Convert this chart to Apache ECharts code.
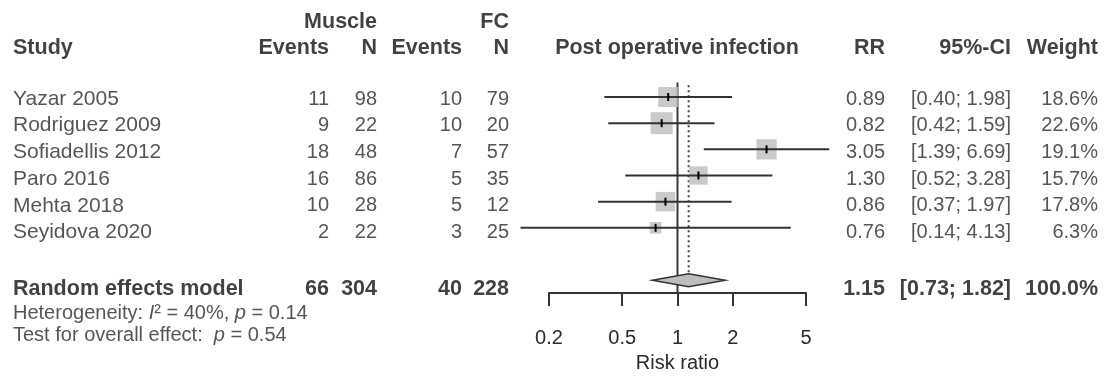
<!DOCTYPE html>
<html>
<head>
<meta charset="utf-8">
<script src="https://cdn.jsdelivr.net/npm/echarts@6/dist/echarts.min.js"></script>
<style>
  html, body { margin: 0; padding: 0; background: #fff; }
  #forest { width: 1105px; height: 378px; }
</style>
</head>
<body>
<div id="forest"></div>
<script>
// study data
var studies = ['Yazar 2005', 'Rodriguez 2009', 'Sofiadellis 2012', 'Paro 2016', 'Mehta 2018', 'Seyidova 2020'];
var eventsMuscle = [11, 9, 18, 16, 10, 2];
var totalMuscle = [98, 22, 48, 86, 28, 22];
var eventsFC = [10, 10, 7, 5, 5, 3];
var totalFC = [79, 20, 57, 35, 12, 25];
var rr = [0.89, 0.82, 3.05, 1.30, 0.86, 0.76];
var ciLower = [0.40, 0.42, 1.39, 0.52, 0.37, 0.14];
var ciUpper = [1.98, 1.59, 6.69, 3.28, 1.97, 4.13];
var weights = [18.6, 22.6, 19.1, 15.7, 17.8, 6.3];

// random effects model: totals (muscle events, N, FC events, N) and RR, lower, upper
var pooledTotals = [66, 304, 40, 228];
var pooledRR = [1.15, 0.73, 1.82];
var pooledWeight = 100.0;
var heterogeneity = ['40%', '0.14'];   // I^2, p
var overallP = '0.54';

var riskTicks = [0.2, 0.5, 1, 2, 5];

// layout (pixels)
var W = 1105, H = 378;
var rowH = 26.7, firstRowY = 99, axisY = 299;
var plotLeft = 549, plotRight = 806;
var summaryRow = 7;
var FONT = '"Liberation Sans", Arial, sans-serif';
var FS = 20, FS_NAME = 21, FS_BOLD = 21.5;

var lg = function (v) { return Math.log10(v); };
var fmt2 = function (v) { return v.toFixed(2); };
var ci = function (lo, hi) { return '[' + fmt2(lo) + '; ' + fmt2(hi) + ']'; };

var myChart = echarts.init(document.getElementById('forest'));

// one text column = one invisible scatter series with labels
function textCol(x, align, items, bold, size) {
    var pos = align === 'right' ? 'left' : (align === 'left' ? 'right' : 'inside');
    return {
        type: 'scatter',
        xAxisIndex: 1,
        yAxisIndex: 1,
        silent: true,
        clip: false,
        symbolSize: 0,
        z: 10,
        data: items.map(function (it) { return { value: [x, it[0]], name: String(it[1]) }; }),
        label: {
            show: true,
            position: pos,
            distance: 0,
            formatter: '{b}',
            fontFamily: FONT,
            fontSize: size || (bold ? FS_BOLD : FS),
            fontWeight: bold ? 'bold' : 'normal',
            color: bold ? '#111' : '#2a2a2a'
        }
    };
}

var rows = studies.map(function (s, i) { return i; });
var hdr1 = -2.88, hdr2 = -1.91, sumText = 7.12;

var series = [];
// headers
series.push(textCol(13, 'left', [[hdr2, 'Study'], [sumText, 'Random effects model']], true));
series.push(textCol(377, 'right', [[hdr1, 'Muscle'], [hdr2, 'N']], true));
series.push(textCol(329, 'right', [[hdr2, 'Events']], true));
series.push(textCol(509, 'right', [[hdr1, 'FC'], [hdr2, 'N']], true));
series.push(textCol(462, 'right', [[hdr2, 'Events']], true));
series.push(textCol(677, 'center', [[hdr2, 'Post operative infection']], true));
series.push(textCol(885, 'right', [[hdr2, 'RR']], true));
series.push(textCol(1011, 'right', [[hdr2, '95%-CI']], true));
series.push(textCol(1098, 'right', [[hdr2, 'Weight']], true));

// study rows
series.push(textCol(13, 'left', rows.map(function (i) { return [i, studies[i]]; }), false, FS_NAME));
series.push(textCol(329, 'right', rows.map(function (i) { return [i, eventsMuscle[i]]; })));
series.push(textCol(377, 'right', rows.map(function (i) { return [i, totalMuscle[i]]; })));
series.push(textCol(462, 'right', rows.map(function (i) { return [i, eventsFC[i]]; })));
series.push(textCol(509, 'right', rows.map(function (i) { return [i, totalFC[i]]; })));
series.push(textCol(885, 'right', rows.map(function (i) { return [i, fmt2(rr[i])]; })));
series.push(textCol(1011, 'right', rows.map(function (i) { return [i, ci(ciLower[i], ciUpper[i])]; })));
series.push(textCol(1098, 'right', rows.map(function (i) { return [i, weights[i].toFixed(1) + '%']; })));

// summary row
series.push(textCol(329, 'right', [[sumText, pooledTotals[0]]], true));
series.push(textCol(377, 'right', [[sumText, pooledTotals[1]]], true));
series.push(textCol(462, 'right', [[sumText, pooledTotals[2]]], true));
series.push(textCol(509, 'right', [[sumText, pooledTotals[3]]], true));
series.push(textCol(885, 'right', [[sumText, fmt2(pooledRR[0])]], true));
series.push(textCol(1011, 'right', [[sumText, ci(pooledRR[1], pooledRR[2])]], true));
series.push(textCol(1098, 'right', [[sumText, pooledWeight.toFixed(1) + '%']], true));

// heterogeneity / overall effect lines (rich text for italics)
var statCol = textCol(13, 'left', [
    [8.02, '{n|Heterogeneity: }{i|I}{n|\u00b2 = ' + heterogeneity[0] + ', }{i|p}{n| = ' + heterogeneity[1] + '}'],
    [8.84, '{n|Test for overall effect:  }{i|p}{n| = ' + overallP + '}']
]);
statCol.label.rich = {
    n: { fontFamily: FONT, fontSize: FS, color: '#2a2a2a' },
    i: { fontFamily: FONT, fontSize: FS, color: '#2a2a2a', fontStyle: 'italic' }
};
series.push(statCol);

// reference lines: no effect (solid) and pooled estimate (dotted)
var yForestMax = (axisY - firstRowY) / rowH;
series.push({
    type: 'line', xAxisIndex: 0, yAxisIndex: 0, silent: true, symbol: 'none', z: 1,
    data: [[lg(1), -0.56], [lg(1), yForestMax]],
    lineStyle: { color: '#3a3a3a', width: 2 }
});
series.push({
    type: 'line', xAxisIndex: 0, yAxisIndex: 0, silent: true, symbol: 'none', z: 1,
    data: [[lg(pooledRR[0]), -0.45], [lg(pooledRR[0]), summaryRow - 0.25]],
    lineStyle: { color: '#444', width: 2, type: [2, 3] }
});

// weight squares
series.push({
    type: 'scatter', xAxisIndex: 0, yAxisIndex: 0, silent: true, clip: false, z: 2,
    symbol: 'rect',
    data: rows.map(function (i) { return [lg(rr[i]), i, weights[i]]; }),
    symbolSize: function (v) { return 4.63 * Math.sqrt(v[2]); },
    itemStyle: { color: '#bdbdbd' }
});

// confidence intervals + estimate mark
series.push({
    type: 'custom', xAxisIndex: 0, yAxisIndex: 0, silent: true, clip: false, z: 3,
    data: rows.map(function (i) { return [lg(rr[i]), i, lg(ciLower[i]), lg(ciUpper[i])]; }),
    renderItem: function (params, api) {
        var row = api.value(1);
        var a = api.coord([api.value(2), row]);
        var b = api.coord([api.value(3), row]);
        var e = api.coord([api.value(0), row]);
        return {
            type: 'group',
            children: [
                { type: 'line', shape: { x1: a[0], y1: a[1], x2: b[0], y2: b[1] }, style: { stroke: '#333', lineWidth: 2 } },
                { type: 'line', shape: { x1: e[0], y1: e[1] - 4, x2: e[0], y2: e[1] + 4 }, style: { stroke: '#000', lineWidth: 2 } }
            ]
        };
    }
});

// pooled diamond
series.push({
    type: 'custom', xAxisIndex: 0, yAxisIndex: 0, silent: true, clip: false, z: 4,
    data: [[lg(pooledRR[0]), summaryRow, lg(pooledRR[1]), lg(pooledRR[2])]],
    renderItem: function (params, api) {
        var row = api.value(1);
        var c = api.coord([api.value(0), row]);
        var l = api.coord([api.value(2), row]);
        var r = api.coord([api.value(3), row]);
        var h = 6.5;
        return {
            type: 'polygon',
            shape: { points: [[l[0], l[1]], [c[0], c[1] - h], [r[0], r[1]], [c[0], c[1] + h]] },
            style: { fill: '#bdbdbd', stroke: '#333', lineWidth: 1.5 }
        };
    }
});

var option = {
    animation: false,
    backgroundColor: '#fff',
    grid: [
        { left: plotLeft, right: W - plotRight, top: 0, bottom: H - axisY },
        { left: 0, right: 0, top: 0, bottom: 0 }
    ],
    xAxis: [
        {
            type: 'value',
            gridIndex: 0,
            min: lg(riskTicks[0]),
            max: lg(riskTicks[riskTicks.length - 1]),
            position: 'bottom',
            splitLine: { show: false },
            axisLine: { show: true, onZero: false, lineStyle: { color: '#333', width: 2 } },
            axisTick: {
                show: true, inside: false, length: 13,
                customValues: riskTicks.map(lg),
                lineStyle: { color: '#333', width: 2 }
            },
            axisLabel: {
                customValues: riskTicks.map(lg),
                margin: 35,
                fontFamily: FONT, fontSize: FS, color: '#2a2a2a',
                formatter: function (v) { return String(+Math.pow(10, v).toPrecision(2)); }
            },
            name: 'Risk ratio',
            nameLocation: 'middle',
            nameGap: 60,
            nameTextStyle: { fontFamily: FONT, fontSize: FS, color: '#2a2a2a' }
        },
        { type: 'value', gridIndex: 1, min: 0, max: W, show: false }
    ],
    yAxis: [
        { type: 'value', gridIndex: 0, inverse: true, min: -firstRowY / rowH, max: yForestMax, show: false },
        { type: 'value', gridIndex: 1, inverse: true, min: -firstRowY / rowH, max: (H - firstRowY) / rowH, show: false }
    ],
    series: series
};

myChart.setOption(option);
</script>
</body>
</html>
